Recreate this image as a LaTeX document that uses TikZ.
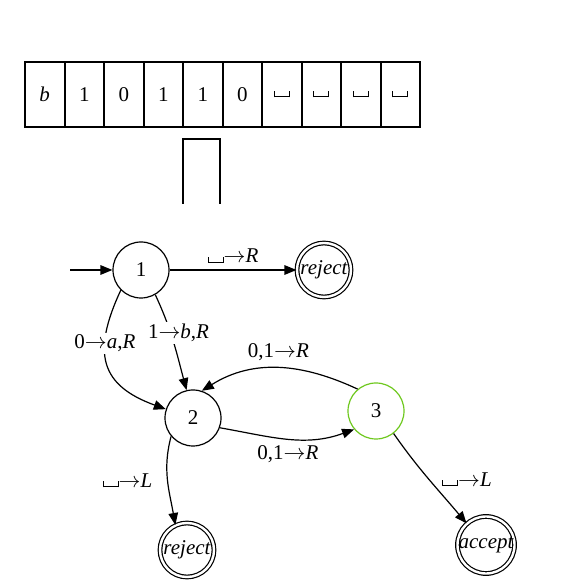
\documentclass[tikz,border=0pt]{standalone}
\usepackage{fontspec}
\setmainfont{Liberation Serif}
\usetikzlibrary{arrows.meta, positioning}

\definecolor{okgreen}{RGB}{110,200,30}
\newcommand{\blank}{\mbox{\vrule width .5pt height 3pt\vrule width 7pt height .5pt\vrule width .5pt height 3pt}}
\newcommand{\goes}{\ensuremath{\rightarrow}}

\begin{document}
\begin{tikzpicture}[x=0.5pt, y=0.5pt, font=\fontsize{10.5}{12}\selectfont,
    cell/.style={draw, line width=1pt, minimum width=19.75pt, minimum height=32.5pt, inner sep=0pt},
    state/.style={circle, draw, line width=0.6pt, minimum size=28pt, inner sep=0pt},
    halt/.style={state, double, double distance=1.2pt, minimum size=27pt, inner sep=0pt, font=\fontsize{10.5}{12}\selectfont\itshape},
    trans/.style={line width=0.6pt, -{Triangle[length=6pt, width=4.8pt]}},
    lbl/.style={fill=white, inner sep=1pt}]
        \useasboundingbox (0,0) rectangle (582,582);

        % Лента
        \foreach \s [count=\i] in {\textit{b},1,0,1,1,0,\blank,\blank,\blank,\blank} {
            \node[cell] (c\i) at ({25+39.5*(\i-0.5)}, 487.5) {\s};
        }

        % Головка
        \draw[line width=1pt] (183,378) -- (183,443) -- (220,443) -- (220,378);

        % Состояния
        \coordinate (init) at (70,312);
        \node[state] (s1) at (141,312) {1};
        \node[halt] (rej1) at (324,312) {reject};
        \node[state] (s2) at (193,164) {2};
        \node[state, draw=okgreen] (s3) at (376,171) {3};
        \node[halt] (rej2) at (187,32) {reject};
        \node[halt] (acc) at (486,37) {accept};

        % Переходы
        \draw[trans] (init) -- (s1);
        \draw[trans] (s1) -- node[above] {\blank\goes\textit{R}} (rej1);
        \draw[trans] (s1.-135) to[out=-115, in=160, looseness=1.4] node[lbl, pos=0.33] {0\goes\textit{a},\textit{R}} (s2.162);
        \draw[trans] (s1.-60) to[out=-65, in=105] node[lbl, pos=0.4, xshift=4pt] {1\goes\textit{b},\textit{R}} (s2.103);
        \draw[trans] (s3.130) to[out=155, in=32] node[above] {0,1\goes\textit{R}} (s2.72);
        \draw[trans] (s2.-20) to[out=-10, in=-160] node[below] {0,1\goes\textit{R}} (s3.-140);
        \draw[trans] (s2.-140) to[out=-105, in=100] node[left, xshift=-4pt] {\blank\goes\textit{L}} (rej2.115);
        \draw[trans] (s3.-52) to[out=-55, in=130] node[right, xshift=3pt] {\blank\goes\textit{L}} (acc.132);

\end{tikzpicture}
\end{document}
